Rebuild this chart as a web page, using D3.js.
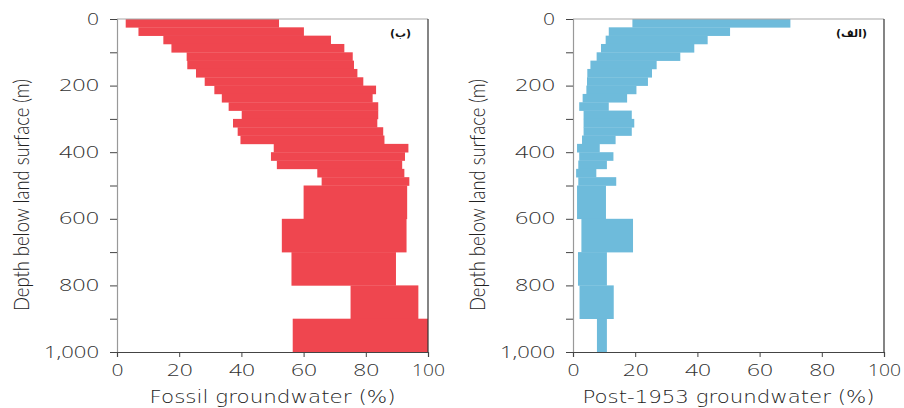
<!DOCTYPE html>
<html>
<head>
<meta charset="utf-8">
<script src="https://cdn.jsdelivr.net/npm/d3@7"></script>
<style>
  body { margin: 0; background: #fff; }
  svg { display: block; }
</style>
</head>
<body>
<svg id="chart" width="904" height="408"></svg>
<script>
// Depth bins (m): 25 m steps to 500 m, then 100 m steps to 1,000 m
const depthEdges = [0, 25, 50, 75, 100, 125, 150, 175, 200, 225, 250, 275, 300, 325, 350, 375, 400, 425, 450, 475, 500, 600, 700, 800, 900, 1000];

// Fossil groundwater (%) range per depth bin
const fossilMin = [2.8, 6.9, 14.9, 17.5, 22.4, 22.6, 25.4, 28.2, 31.3, 33.7, 35.9, 40.1, 37.3, 38.8, 39.7, 50.4, 49.5, 51.4, 64.4, 65.8, 60.0, 53.0, 56.1, 75.1, 56.5];
const fossilMax = [52.1, 60.1, 68.8, 73.1, 75.8, 76.2, 77.3, 79.2, 83.3, 82.2, 84.0, 84.0, 83.7, 85.6, 86.0, 93.7, 92.6, 91.7, 92.4, 94.0, 93.3, 93.1, 89.7, 96.9, 100];

// Post-1953 groundwater (%) range per depth bin
const post1953Min = [19.1, 11.5, 10.5, 9.0, 7.6, 5.6, 4.6, 4.5, 4.3, 3.1, 2.0, 3.4, 3.4, 3.4, 2.9, 1.3, 2.0, 1.7, 1.0, 1.7, 1.3, 2.7, 1.6, 2.1, 7.7];
const post1953Max = [69.9, 50.5, 43.3, 39.0, 34.5, 26.9, 25.4, 24.1, 20.4, 17.4, 11.5, 18.9, 19.7, 18.9, 13.7, 8.6, 13.0, 10.9, 7.5, 13.9, 10.6, 19.3, 10.9, 13.1, 10.9];

const xTicks = [0, 20, 40, 60, 80, 100];
const yTicks = [0, 100, 200, 300, 400, 500, 600, 700, 800, 900, 1000];

const panels = [
    { left: 117, min: fossilMin, max: fossilMax, color: '#ef464f', xTitle: 'Fossil groundwater (%)', titleLen: 246, tag: '(ب)' },
    { left: 573, min: post1953Min, max: post1953Max, color: '#6ebbdb', xTitle: 'Post-1953 groundwater (%)', titleLen: 292, tag: '(الف)' }
];

const svg = d3.select('#chart');
const plotTop = 19, plotBottom = 352, panelW = 311;
const fmt = d3.format(',');

// wide, round-digit look for tick numbers
function labelLen(s) {
    let w = -2;
    for (const c of s) w += c === ',' ? 8 : c === '1' ? 7 : 14;
    return w;
}
function styleTicks(sel) {
    sel.attr('font-family', 'Open Sans')
        .attr('font-weight', 300)
        .attr('font-size', 16)
        .attr('fill', '#333')
        .each(function () {
            const s = this.textContent;
            if (s) d3.select(this).attr('textLength', labelLen(s)).attr('lengthAdjust', 'spacingAndGlyphs');
        });
}

panels.forEach(p => {
    const g = svg.append('g').attr('transform', `translate(${p.left},${plotTop})`);
    const h = plotBottom - plotTop;

    const x = d3.scaleLinear().domain([0, 100]).range([0, panelW]);
    const y = d3.scaleLinear().domain([0, 1000]).range([0, h]);

    // range bars
    const rows = p.min.map((v, i) => ({ lo: v, hi: p.max[i], d0: depthEdges[i], d1: depthEdges[i + 1] }));
    g.selectAll('rect.bar')
        .data(rows)
        .enter()
        .append('rect')
        .attr('class', 'bar')
        .attr('x', d => x(d.lo))
        .attr('y', d => y(d.d0))
        .attr('width', d => x(d.hi) - x(d.lo))
        .attr('height', d => y(d.d1) - y(d.d0) + 0.3)
        .attr('fill', p.color);

    // frame: top and right
    g.append('line').attr('x1', 0).attr('x2', panelW).attr('y1', 0).attr('y2', 0)
        .attr('stroke', '#a8a8a8').attr('stroke-width', 1.2);
    g.append('line').attr('x1', panelW).attr('x2', panelW).attr('y1', 0).attr('y2', h)
        .attr('stroke', '#333').attr('stroke-width', 1.2);

    // y axis
    const yAxis = g.append('g')
        .call(d3.axisLeft(y).tickValues(yTicks).tickSize(7).tickPadding(11)
            .tickFormat(d => d % 200 === 0 ? fmt(d) : ''));
    yAxis.select('.domain').attr('stroke', '#999').attr('stroke-width', 1.2);
    yAxis.selectAll('.tick line').attr('stroke', '#444');
    styleTicks(yAxis.selectAll('.tick text'));

    // x axis
    const xAxis = g.append('g')
        .attr('transform', `translate(0,${h})`)
        .call(d3.axisBottom(x).tickValues(xTicks).tickSize(5).tickPadding(8));
    xAxis.select('.domain').attr('stroke', '#444').attr('stroke-width', 1.2);
    xAxis.selectAll('.tick line').attr('stroke', '#444');
    styleTicks(xAxis.selectAll('.tick text'));

    // x title
    g.append('text')
        .attr('x', panelW / 2)
        .attr('y', h + 51)
        .attr('text-anchor', 'middle')
        .attr('font-family', 'DejaVu Sans')
        .attr('font-weight', 300)
        .attr('font-size', 17)
        .attr('textLength', p.titleLen)
        .attr('lengthAdjust', 'spacingAndGlyphs')
        .attr('fill', '#222')
        .text(p.xTitle);

    // y title
    g.append('text')
        .attr('transform', 'rotate(-90)')
        .attr('x', -176)
        .attr('y', -88)
        .attr('text-anchor', 'middle')
        .attr('font-family', 'Lato')
        .attr('font-weight', 300)
        .attr('font-size', 21)
        .attr('textLength', 232)
        .attr('lengthAdjust', 'spacingAndGlyphs')
        .attr('fill', '#222')
        .text('Depth below land surface (m)');

    // panel tag
    g.append('text')
        .attr('x', panelW - 17)
        .attr('y', 18)
        .attr('text-anchor', 'end')
        .attr('font-family', 'DejaVu Sans')
        .attr('font-weight', 'bold')
        .attr('font-size', 11)
        .attr('fill', '#111')
        .text(p.tag);
});
</script>
</body>
</html>
